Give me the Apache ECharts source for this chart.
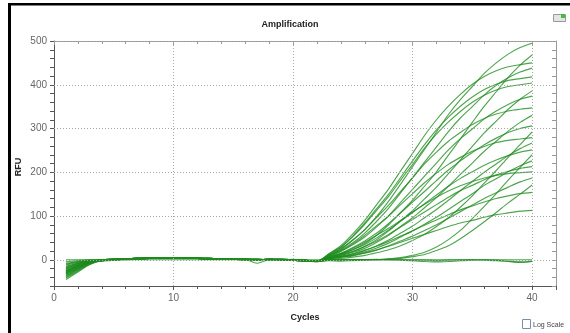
<!DOCTYPE html>
<html><head><meta charset="utf-8">
<script src="https://cdn.jsdelivr.net/npm/echarts@6/dist/echarts.min.js"></script>
<style>html,body{margin:0;padding:0;background:#fff}#c{width:570px;height:333px}</style>
</head><body><div id="c"></div>
<script>
const cycles = [1,2,3,4,5,6,7,8,9,10,11,12,13,14,15,16,17,18,19,20,21,22,23,24,25,26,27,28,29,30,31,32,33,34,35,36,37,38,39,40];
const xTicks = [0,10,20,30,40];
const yTicks = [0,100,200,300,400,500];

const s1 = [-30,-17,-6,-2,0,1,2,3,4,4,3,3,2,2,1,1,0,1,0,0,-2,-3,10,25,45,69,99,134,173,213,252,292,332,366,396,426,450,470,485,495];
const s2 = [-20,-11,-4,0,1,2,3,4,5,4,4,3,3,2,1,0,0,1,1,0,-1,-4,5,14,23,37,56,80,108,136,168,201,239,276,314,351,384,417,445,468];
const s3 = [-42,-26,-10,-1,1,2,3,4,4,5,4,3,2,1,2,1,1,0,0,-1,-3,-4,14,32,59,90,126,162,203,243,284,320,351,378,401,419,432,441,446,450];
const s4 = [-25,-14,-5,0,1,2,3,4,5,4,4,3,3,2,1,0,0,1,1,0,-1,-4,9,22,39,61,88,118,153,188,223,258,293,324,350,377,399,416,429,438];
const s5 = [-35,-20,-8,-2,0,1,2,3,4,4,3,3,2,2,1,1,0,1,0,0,-2,-3,13,29,54,84,117,150,188,226,263,297,326,351,372,389,401,410,414,418];
const s6 = [-28,-15,-5,-1,1,2,3,4,4,5,4,3,2,1,2,1,1,0,0,-1,-3,-4,12,28,53,81,113,145,182,218,255,287,315,339,360,376,388,396,400,404];
const s7 = [-15,-8,-3,-2,0,1,2,3,4,4,3,3,2,2,1,1,0,1,0,0,-2,-3,4,12,19,31,46,66,89,112,139,166,197,228,259,290,317,344,367,386];
const s8 = [-38,-22,-8,0,1,2,3,4,5,4,4,3,3,2,1,0,0,1,1,0,-1,-4,7,19,34,52,75,101,131,161,191,221,251,277,299,322,340,355,367,374];
const s9 = [-22,-12,-4,-1,1,2,3,4,4,5,4,3,2,1,2,1,1,0,0,-1,-3,-4,10,24,45,69,97,125,156,187,219,246,271,291,309,323,333,340,344,347];
const s10 = [-45,-28,-11,-2,0,1,2,3,4,4,3,3,2,2,1,1,0,1,0,0,-2,-3,3,10,17,26,40,56,76,96,119,142,168,195,221,248,271,294,314,330];
const s11 = [-18,-9,-3,-3,-1,0,2,3,4,5,5,4,3,2,2,1,-8,0,0,1,-2,-5,6,15,28,43,61,83,107,132,156,181,205,226,245,263,278,291,300,306];
const s12 = [-32,-18,-6,0,1,2,3,4,5,4,4,3,3,2,1,0,0,1,1,0,-1,-4,1,3,6,10,16,23,32,44,58,76,96,120,146,175,204,234,263,292];
const s13 = [-10,-5,-2,-1,1,2,3,4,4,5,4,3,2,1,2,1,1,0,0,-1,-3,-4,8,20,36,56,78,100,126,151,176,198,218,234,248,259,268,273,276,279];
const s14 = [-27,-15,-5,-2,0,1,2,3,4,4,3,3,2,2,1,1,0,1,0,0,-2,-3,3,8,13,21,32,45,61,77,96,115,136,158,179,200,219,238,254,267];
const s15 = [-36,-21,-7,0,1,2,3,4,5,4,4,3,3,2,1,0,0,1,1,0,-1,-4,5,13,23,35,50,68,88,108,128,148,168,186,201,216,228,238,246,251];
const s16 = [-24,-13,-4,-1,1,2,3,4,4,5,4,3,2,1,2,1,1,0,0,-1,-3,-4,0,0,0,0,0,2,5,10,17,29,46,67,94,122,151,182,211,240];
const s17 = [-40,-24,-9,-2,0,1,2,3,4,4,3,3,2,2,1,1,0,1,0,0,-2,-3,2,7,11,18,27,38,52,66,81,97,115,133,151,170,185,201,215,226];
const s18 = [-12,-6,-2,0,1,2,3,4,5,4,4,3,3,2,1,0,0,1,1,0,-1,-4,4,11,19,30,43,58,75,92,109,126,143,158,170,183,194,202,209,213];
const s19 = [-30,-16,-5,-1,1,2,3,4,4,5,4,3,2,1,2,1,1,0,0,-1,-3,-4,6,14,26,40,56,72,90,109,127,143,157,169,179,187,193,197,199,201];
const s20 = [-20,-10,-3,-2,0,1,2,3,4,4,3,3,2,2,1,1,0,1,0,0,-2,-3,2,6,9,15,22,32,43,54,67,80,95,110,125,140,153,166,178,187];
const s21 = [-33,-19,-7,0,1,2,3,4,5,4,4,3,3,2,1,0,0,1,1,0,-1,-4,0,0,0,0,0,2,3,7,12,21,32,48,67,87,108,130,150,171];
const s22 = [-26,-14,-5,-1,1,2,3,4,4,5,4,3,2,1,2,1,1,0,0,-1,-3,-4,3,8,14,22,31,42,54,66,79,91,103,114,123,132,140,146,151,154];
const s23 = [-16,-8,-3,-2,0,1,2,3,4,4,3,3,2,2,1,1,0,1,0,0,-2,-3,2,6,10,16,23,31,40,49,58,67,76,84,90,97,103,107,111,113];
const f1 = [0,0,0,0,0,0,0,0,0,0,0,0,0,0,0,0,0,0,0,0,0,0,0,0,0,0,0,0,0,0,0,0,0,0,0,0,0,0,0,0];
const f2 = [-8,-4,-1,0,1,2,3,4,5,4,4,3,3,2,1,0,0,1,1,0,-1,-4,-2,-3,-2,-1,0,0,-1,-2,-4,-5,-4,-2,-1,0,-1,-3,-5,-3];
const f3 = [-5,-2,0,-1,1,2,3,4,4,5,4,3,2,1,2,1,1,0,0,-1,-3,-4,-1,-1,0,0,1,0,0,-1,-1,-2,-1,0,0,-1,-2,-4,-6,-4];

const curves = [s1,s2,s3,s4,s5,s6,s7,s8,s9,s10,s11,s12,s13,s14,s15,s16,s17,s18,s19,s20,s21,s22,s23,f1,f2,f3];

const FONT = 'Liberation Sans, Arial, sans-serif';
const chart = echarts.init(document.getElementById('c'), null, {renderer: 'canvas'});

const gridMarks = yTicks.map(v => ({yAxis: v})).concat(xTicks.filter(v => v > 0).map(v => ({xAxis: v})));

const series = [{
  type: 'line', data: [], z: 1, silent: true,
  markLine: {
    silent: true, symbol: ['none', 'none'], label: {show: false},
    lineStyle: {type: [1, 2], color: '#a8a8a8', width: 1},
    animation: false,
    data: gridMarks
  }
}].concat(curves.map(c => ({
  type: 'line', z: 3,
  data: cycles.map((x, i) => [x, c[i]]),
  showSymbol: false, smooth: 0.3,
  lineStyle: {color: 'rgba(30,140,30,0.78)', width: 1.15},
  itemStyle: {color: 'rgba(30,140,30,0.78)'},
  emphasis: {disabled: true}
})));

function xAx(pos, main) {
  return {
    type: 'value', position: pos, min: 0, max: 42, interval: 10,
    axisLine: {show: true, onZero: false, lineStyle: {color: main ? '#555' : '#999', width: 1}},
    axisTick: {show: true, length: 4, inside: !main, lineStyle: {color: main ? '#555' : '#999'}},
    minorTick: {show: true, splitNumber: 5, length: 3, lineStyle: {color: main ? '#555' : '#999'}},
    axisLabel: {show: main, color: '#666', fontSize: 10, fontFamily: FONT, margin: 7,
      formatter: v => (xTicks.indexOf(v) >= 0 ? String(v) : '')},
    splitLine: {show: false}
  };
}
function yAx(pos, main) {
  return {
    type: 'value', position: pos, min: -60, max: 500, interval: 20,
    axisLine: {show: true, onZero: false, lineStyle: {color: main ? '#555' : '#999', width: 1}},
    axisTick: {show: true, length: 4, inside: !main, lineStyle: {color: main ? '#555' : '#999'}},
    axisLabel: {show: main, color: '#666', fontSize: 10, fontFamily: FONT, margin: 7,
      formatter: v => (yTicks.indexOf(v) >= 0 ? String(v) : '')},
    splitLine: {show: false}
  };
}

chart.setOption({
  animation: false,
  backgroundColor: '#fff',
  grid: {left: 54, right: 14, top: 41, bottom: 47},
  xAxis: [xAx('bottom', true), xAx('top', false)],
  yAxis: [yAx('left', true), yAx('right', false)],
  series: series,
  graphic: [
    {type: 'rect', shape: {x: 8, y: 3, width: 3, height: 330}, style: {fill: '#000'}},
    {type: 'rect', shape: {x: 8, y: 3, width: 562, height: 2.5}, style: {fill: '#000'}},
    {type: 'text', x: 290, y: 25, style: {text: 'Amplification', font: 'bold 9px ' + FONT, fill: '#222', textAlign: 'center', textVerticalAlign: 'middle'}},
    {type: 'text', x: 19, y: 167, rotation: Math.PI / 2, style: {text: 'RFU', font: 'bold 9px ' + FONT, fill: '#222', textAlign: 'center', textVerticalAlign: 'middle'}},
    {type: 'text', x: 305, y: 318, style: {text: 'Cycles', font: 'bold 9px ' + FONT, fill: '#222', textAlign: 'center', textVerticalAlign: 'middle'}},
    {type: 'rect', shape: {x: 553.5, y: 14.5, width: 12, height: 7}, style: {fill: '#e4e4e4', stroke: '#999', lineWidth: 1}},
    {type: 'rect', shape: {x: 561, y: 14, width: 4, height: 4}, style: {fill: '#3cc23c'}},
    {type: 'rect', shape: {x: 522.5, y: 319.5, width: 8, height: 9}, style: {fill: '#fff', stroke: '#7a8fa8', lineWidth: 1}},
    {type: 'text', x: 533, y: 325, style: {text: 'Log Scale', font: '7px ' + FONT, fill: '#444', textAlign: 'left', textVerticalAlign: 'middle'}}
  ]
});
</script>
</body></html>
